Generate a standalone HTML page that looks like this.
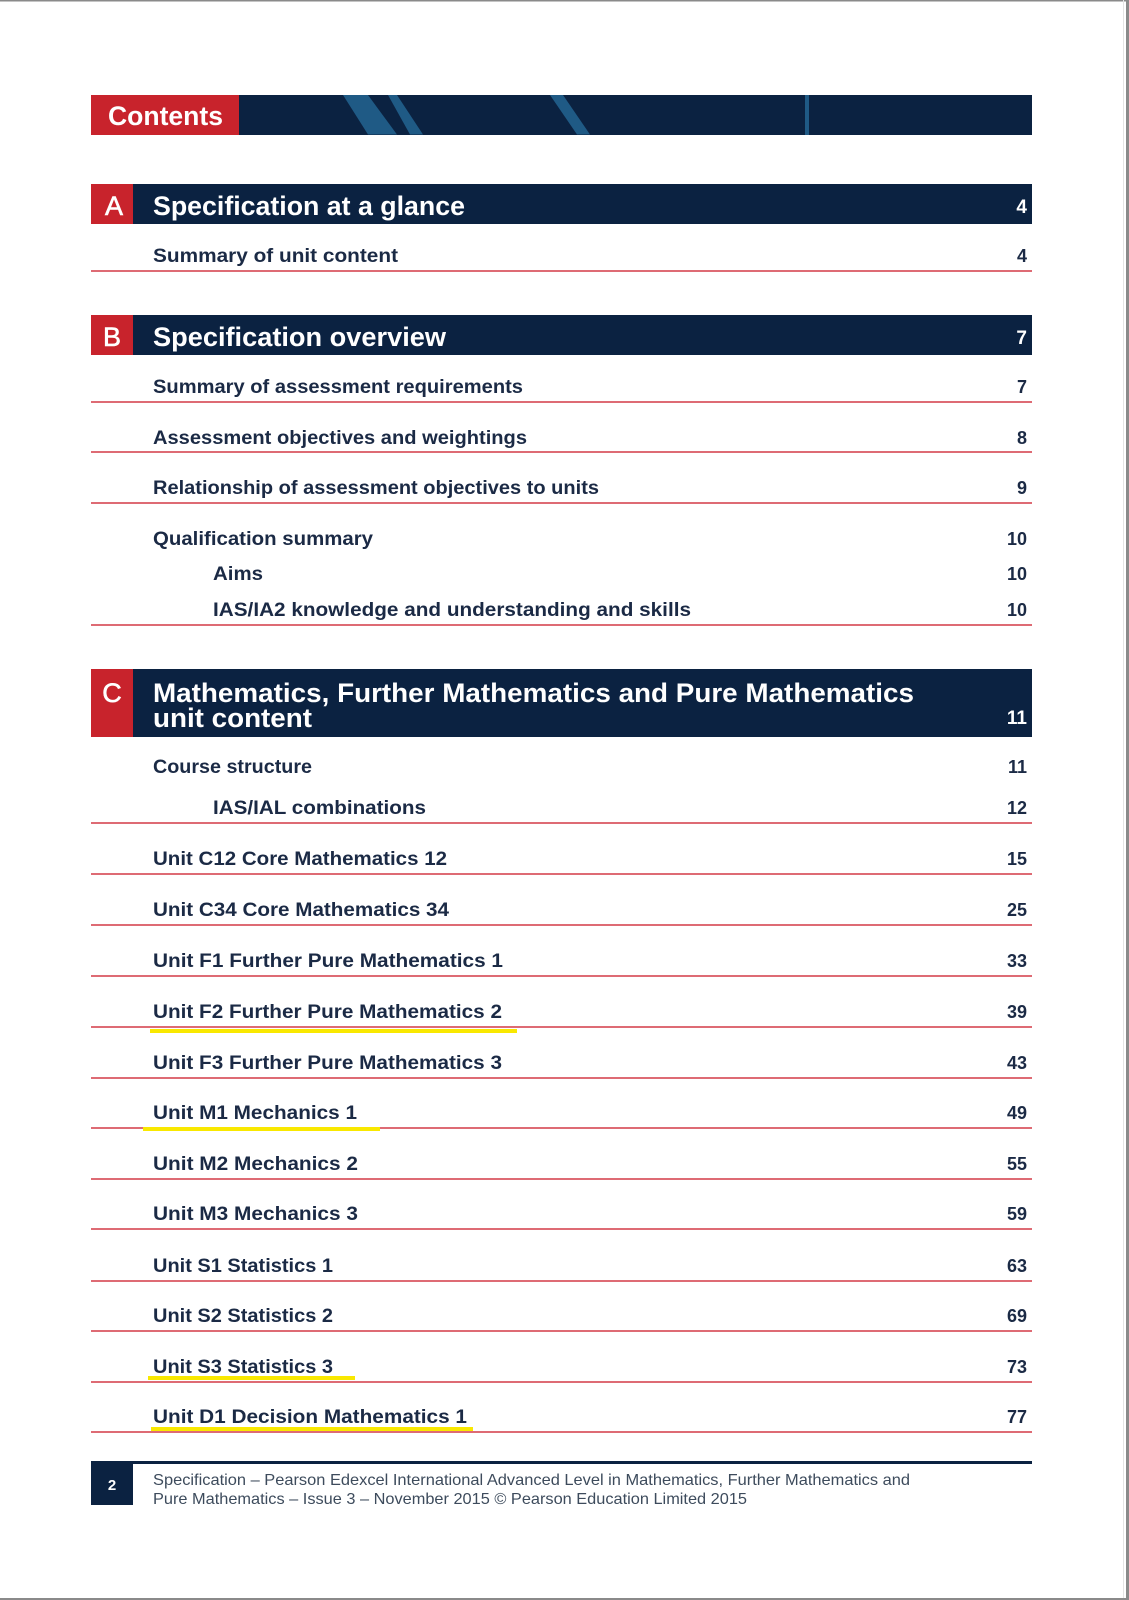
<!DOCTYPE html>
<html>
<head>
<meta charset="utf-8">
<style>
  html,body{margin:0;padding:0;background:#fff;}
  body{width:1129px;height:1600px;overflow:hidden;}
  svg{display:block;}
  .row{font-family:"Liberation Sans",sans-serif;font-weight:bold;font-size:19px;fill:#1b2a45;}
  .num{font-family:"Liberation Sans",sans-serif;font-weight:bold;font-size:18px;fill:#1b2a45;}
  .hd{font-family:"Liberation Sans",sans-serif;font-weight:bold;font-size:27px;fill:#fff;}
  .hdn{font-family:"Liberation Sans",sans-serif;font-weight:bold;font-size:19px;fill:#fff;}
  .let{font-family:"Liberation Sans",sans-serif;font-size:27px;fill:#fff;stroke:#fff;stroke-width:0.6px;}
  .ft{font-family:"Liberation Sans",sans-serif;font-size:16px;fill:#3d4b5c;}
</style>
</head>
<body>
<svg width="1129" height="1600" viewBox="0 0 1129 1600" xmlns="http://www.w3.org/2000/svg">
  <rect x="0" y="0" width="1129" height="1600" fill="#fff"/>
  <!-- page borders -->
  <rect x="0" y="0" width="1129" height="1.5" fill="#8a8a8a"/>
  <rect x="1126" y="0" width="3" height="1600" fill="#8a8a8a"/>
  <rect x="1123" y="0" width="1" height="1600" fill="#e4e4e4"/>
  <rect x="0" y="1598" width="1129" height="2" fill="#8a8a8a"/>

  <!-- Contents header -->
  <rect x="91" y="95" width="941" height="40" fill="#0b2241"/>
  <polygon points="343,95 368,95 397,134.5 368,134.5" fill="#1f5a85"/>
  <polygon points="388,95 397,95 423,134.5 410,134.5" fill="#1f5a85"/>
  <polygon points="550,95 563,95 590,134.5 577,134.5" fill="#1f5a85"/>
  <rect x="805" y="95" width="4" height="40" fill="#1f5a85"/>
  <rect x="91" y="95" width="148" height="40" fill="#c8232c"/>
  <text class="hd" x="108" y="125" textLength="115" lengthAdjust="spacingAndGlyphs">Contents</text>

  <!-- Section A -->
  <rect x="91" y="184" width="941" height="40" fill="#0b2241"/>
  <rect x="91" y="184" width="42" height="40" fill="#c8232c"/>
  <text class="let" x="114" y="215" text-anchor="middle">A</text>
  <text class="hd" x="153" y="215" font-size="28" textLength="312" lengthAdjust="spacingAndGlyphs">Specification at a glance</text>
  <text class="hdn" x="1027" y="213" text-anchor="end">4</text>

  <text class="row" x="153" y="262" textLength="245" lengthAdjust="spacingAndGlyphs">Summary of unit content</text>
  <text class="num" x="1027" y="262" text-anchor="end">4</text>
  <rect x="91" y="270" width="941" height="2" fill="#de6b74"/>

  <!-- Section B -->
  <rect x="91" y="315" width="941" height="40" fill="#0b2241"/>
  <rect x="91" y="315" width="42" height="40" fill="#c8232c"/>
  <text class="let" x="112" y="346" text-anchor="middle">B</text>
  <text class="hd" x="153" y="346" font-size="28" textLength="293" lengthAdjust="spacingAndGlyphs">Specification overview</text>
  <text class="hdn" x="1027" y="344" text-anchor="end">7</text>

  <text class="row" x="153" y="393" textLength="370" lengthAdjust="spacingAndGlyphs">Summary of assessment requirements</text>
  <text class="num" x="1027" y="393" text-anchor="end">7</text>
  <rect x="91" y="401" width="941" height="2" fill="#de6b74"/>

  <text class="row" x="153" y="444" textLength="374" lengthAdjust="spacingAndGlyphs">Assessment objectives and weightings</text>
  <text class="num" x="1027" y="444" text-anchor="end">8</text>
  <rect x="91" y="451" width="941" height="2" fill="#de6b74"/>

  <text class="row" x="153" y="494" textLength="446" lengthAdjust="spacingAndGlyphs">Relationship of assessment objectives to units</text>
  <text class="num" x="1027" y="494" text-anchor="end">9</text>
  <rect x="91" y="502" width="941" height="2" fill="#de6b74"/>

  <text class="row" x="153" y="545" textLength="220" lengthAdjust="spacingAndGlyphs">Qualification summary</text>
  <text class="num" x="1027" y="545" text-anchor="end">10</text>
  <text class="row" x="213" y="580" textLength="50" lengthAdjust="spacingAndGlyphs">Aims</text>
  <text class="num" x="1027" y="580" text-anchor="end">10</text>
  <text class="row" x="213" y="616" textLength="478" lengthAdjust="spacingAndGlyphs">IAS/IA2 knowledge and understanding and skills</text>
  <text class="num" x="1027" y="616" text-anchor="end">10</text>
  <rect x="91" y="624" width="941" height="2" fill="#de6b74"/>

  <!-- Section C -->
  <rect x="91" y="669" width="941" height="68" fill="#0b2241"/>
  <rect x="91" y="669" width="42" height="68" fill="#c8232c"/>
  <text class="let" x="112" y="702" text-anchor="middle">C</text>
  <text class="hd" x="153" y="702" textLength="761" lengthAdjust="spacingAndGlyphs">Mathematics, Further Mathematics and Pure Mathematics</text>
  <text class="hd" x="153" y="727" textLength="159" lengthAdjust="spacingAndGlyphs">unit content</text>
  <text class="hdn" x="1027" y="724" text-anchor="end">11</text>

  <text class="row" x="153" y="773" textLength="159" lengthAdjust="spacingAndGlyphs">Course structure</text>
  <text class="num" x="1027" y="773" text-anchor="end">11</text>
  <text class="row" x="213" y="814" textLength="213" lengthAdjust="spacingAndGlyphs">IAS/IAL combinations</text>
  <text class="num" x="1027" y="814" text-anchor="end">12</text>
  <rect x="91" y="822" width="941" height="2" fill="#de6b74"/>

  <text class="row" x="153" y="865" textLength="294" lengthAdjust="spacingAndGlyphs">Unit C12 Core Mathematics 12</text>
  <text class="num" x="1027" y="865" text-anchor="end">15</text>
  <rect x="91" y="873" width="941" height="2" fill="#de6b74"/>

  <text class="row" x="153" y="916" textLength="296" lengthAdjust="spacingAndGlyphs">Unit C34 Core Mathematics 34</text>
  <text class="num" x="1027" y="916" text-anchor="end">25</text>
  <rect x="91" y="924" width="941" height="2" fill="#de6b74"/>

  <text class="row" x="153" y="967" textLength="350" lengthAdjust="spacingAndGlyphs">Unit F1 Further Pure Mathematics 1</text>
  <text class="num" x="1027" y="967" text-anchor="end">33</text>
  <rect x="91" y="975" width="941" height="2" fill="#de6b74"/>

  <text class="row" x="153" y="1018" textLength="349" lengthAdjust="spacingAndGlyphs">Unit F2 Further Pure Mathematics 2</text>
  <text class="num" x="1027" y="1018" text-anchor="end">39</text>
  <rect x="91" y="1026" width="941" height="2" fill="#de6b74"/>
  <rect x="150" y="1029" width="367" height="4" fill="#f9e800"/>

  <text class="row" x="153" y="1069" textLength="349" lengthAdjust="spacingAndGlyphs">Unit F3 Further Pure Mathematics 3</text>
  <text class="num" x="1027" y="1069" text-anchor="end">43</text>
  <rect x="91" y="1077" width="941" height="2" fill="#de6b74"/>

  <text class="row" x="153" y="1119" textLength="204" lengthAdjust="spacingAndGlyphs">Unit M1 Mechanics 1</text>
  <text class="num" x="1027" y="1119" text-anchor="end">49</text>
  <rect x="91" y="1127" width="941" height="2" fill="#de6b74"/>
  <rect x="143" y="1127" width="237" height="4" fill="#f9e800"/>

  <text class="row" x="153" y="1170" textLength="205" lengthAdjust="spacingAndGlyphs">Unit M2 Mechanics 2</text>
  <text class="num" x="1027" y="1170" text-anchor="end">55</text>
  <rect x="91" y="1178" width="941" height="2" fill="#de6b74"/>

  <text class="row" x="153" y="1220" textLength="205" lengthAdjust="spacingAndGlyphs">Unit M3 Mechanics 3</text>
  <text class="num" x="1027" y="1220" text-anchor="end">59</text>
  <rect x="91" y="1228" width="941" height="2" fill="#de6b74"/>

  <text class="row" x="153" y="1272" textLength="180" lengthAdjust="spacingAndGlyphs">Unit S1 Statistics 1</text>
  <text class="num" x="1027" y="1272" text-anchor="end">63</text>
  <rect x="91" y="1280" width="941" height="2" fill="#de6b74"/>

  <text class="row" x="153" y="1322" textLength="180" lengthAdjust="spacingAndGlyphs">Unit S2 Statistics 2</text>
  <text class="num" x="1027" y="1322" text-anchor="end">69</text>
  <rect x="91" y="1330" width="941" height="2" fill="#de6b74"/>

  <text class="row" x="153" y="1373" textLength="180" lengthAdjust="spacingAndGlyphs">Unit S3 Statistics 3</text>
  <text class="num" x="1027" y="1373" text-anchor="end">73</text>
  <rect x="148" y="1376" width="207" height="4" fill="#f9e800"/>
  <rect x="91" y="1381" width="941" height="2" fill="#de6b74"/>

  <text class="row" x="153" y="1423" textLength="314" lengthAdjust="spacingAndGlyphs">Unit D1 Decision Mathematics 1</text>
  <text class="num" x="1027" y="1423" text-anchor="end">77</text>
  <rect x="151" y="1427" width="322" height="4" fill="#f9e800"/>
  <rect x="91" y="1431" width="941" height="2" fill="#de6b74"/>

  <!-- Footer -->
  <rect x="91" y="1461" width="941" height="3" fill="#0b2241"/>
  <rect x="91" y="1461" width="42" height="44" fill="#0b2241"/>
  <text x="112" y="1490" text-anchor="middle" font-family="Liberation Sans, sans-serif" font-weight="bold" font-size="15" fill="#fff">2</text>
  <text class="ft" x="153" y="1485" textLength="757" lengthAdjust="spacingAndGlyphs">Specification – Pearson Edexcel International Advanced Level in Mathematics, Further Mathematics and</text>
  <text class="ft" x="153" y="1504" textLength="594" lengthAdjust="spacingAndGlyphs">Pure Mathematics – Issue 3 – November 2015 © Pearson Education Limited 2015</text>
</svg>
</body>
</html>
